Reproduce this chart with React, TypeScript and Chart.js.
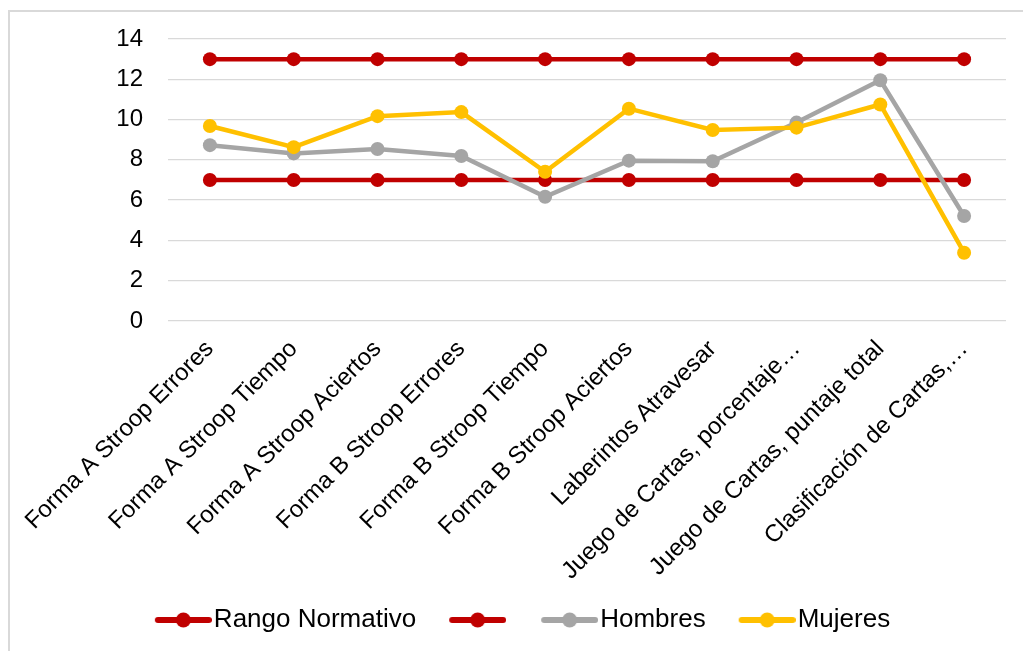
import React, { useEffect, useRef } from "react";
import { Chart, registerables } from "chart.js";

Chart.register(...registerables);

const categories: string[] = [
  "Forma A Stroop Errores",
  "Forma A Stroop Tiempo",
  "Forma A Stroop Aciertos",
  "Forma B Stroop Errores",
  "Forma B Stroop Tiempo",
  "Forma B Stroop Aciertos",
  "Laberintos Atravesar",
  "Juego de Cartas, porcentaje…",
  "Juego de Cartas, puntaje total",
  "Clasificación de Cartas,…",
];

const rangoSuperior: number[] = [13, 13, 13, 13, 13, 13, 13, 13, 13, 13];
const rangoInferior: number[] = [7, 7, 7, 7, 7, 7, 7, 7, 7, 7];
const hombres: number[] = [8.73, 8.32, 8.54, 8.19, 6.17, 7.96, 7.93, 9.85, 11.95, 5.21];
const mujeres: number[] = [9.68, 8.63, 10.17, 10.37, 7.41, 10.54, 9.48, 9.6, 10.75, 3.39];

const yTicks: number[] = [0, 2, 4, 6, 8, 10, 12, 14];

const RED = "#C00000";
const GRAY = "#A5A5A5";
const YELLOW = "#FFC000";

function legendMarker(color: string): HTMLCanvasElement {
  // transparent left part, marker (57px) on the right side
  const c = document.createElement("canvas");
  c.width = 91;
  c.height = 18;
  const ctx = c.getContext("2d")!;
  const x0 = 34;
  ctx.strokeStyle = color;
  ctx.lineWidth = 6;
  ctx.lineCap = "round";
  ctx.beginPath();
  ctx.moveTo(x0 + 3, 9);
  ctx.lineTo(x0 + 54, 9);
  ctx.stroke();
  ctx.fillStyle = color;
  ctx.beginPath();
  ctx.arc(x0 + 28.5, 9, 7.5, 0, Math.PI * 2);
  ctx.fill();
  return c;
}

export default function App() {
  const ref = useRef<HTMLCanvasElement | null>(null);

  useEffect(() => {
    if (!ref.current) return;
    Chart.defaults.font.family = "'Liberation Sans', Arial, sans-serif";
    Chart.defaults.color = "#000";

    const mk = (label: string, data: number[], color: string, order: number) => ({
      label,
      data,
      borderColor: color,
      backgroundColor: color,
      pointBackgroundColor: color,
      pointBorderColor: color,
      borderWidth: 4.5,
      pointRadius: 7,
      pointBorderWidth: 0,
      pointHoverRadius: 7,
      tension: 0,
      fill: false,
      order,
    });

    const markers = [legendMarker(RED), legendMarker(RED), legendMarker(GRAY), legendMarker(YELLOW)];

    const chart = new Chart(ref.current, {
      type: "line",
      data: {
        labels: categories,
        datasets: [
          mk("Rango Normativo", rangoSuperior, RED, 3),
          mk("", rangoInferior, RED, 2),
          mk("Hombres", hombres, GRAY, 1),
          mk("Mujeres", mujeres, YELLOW, 0),
        ],
      },
      options: {
        responsive: false,
        animation: false,
        layout: { padding: { top: 27, right: 17, bottom: 8, left: 6 } },
        plugins: {
          tooltip: { enabled: false },
          legend: {
            position: "bottom",
            labels: {
              font: { size: 26 },
              color: "#000",
              usePointStyle: true,
              pointStyleWidth: 69,
              padding: 10,
              sort: (a: any, b: any) => a.datasetIndex - b.datasetIndex,
              generateLabels: (ch: any) => {
                const items = Chart.defaults.plugins.legend.labels.generateLabels(ch);
                return items.map((it: any) => ({ ...it, pointStyle: markers[it.datasetIndex] }));
              },
            },
          },
        },
        scales: {
          x: {
            offset: true,
            grid: { display: false, drawTicks: false },
            border: { display: false },
            ticks: {
              autoSkip: false,
              minRotation: 45,
              maxRotation: 45,
              padding: 14,
              font: { size: 24 },
              color: "#000",
            },
            afterFit: (s: any) => {
              s.height = 276;
              s.paddingTop = 0;
              s.paddingBottom = 0;
              s.paddingLeft = 0;
              s.paddingRight = 0;
            },
          },
          y: {
            min: 0,
            max: 14,
            afterBuildTicks: (s: any) => {
              s.ticks = yTicks.map((v) => ({ value: v }));
            },
            grid: { color: "#D9D9D9", lineWidth: 1.3, drawTicks: false },
            border: { display: false },
            ticks: { padding: 25, font: { size: 24 }, color: "#000" },
            afterFit: (s: any) => {
              s.width = 152;
              s.paddingTop = 0;
              s.paddingBottom = 0;
            },
          },
        },
      },
    });
    return () => chart.destroy();
  }, []);

  return (
    <div
      style={{
        position: "fixed",
        left: 0,
        top: 0,
        width: "100vw",
        height: "100vh",
        overflow: "hidden",
        background: "#fff",
      }}
    >
      <div
        style={{
          position: "absolute",
          left: 8,
          top: 10,
          width: 1060,
          height: 700,
          border: "2px solid #D9D9D9",
          background: "#fff",
        }}
      >
        <canvas ref={ref} width={1013} height={639} style={{ display: "block" }} />
      </div>
    </div>
  );
}
